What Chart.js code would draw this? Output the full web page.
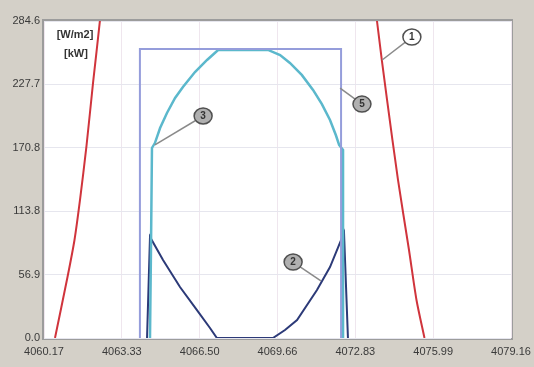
<!DOCTYPE html>
<html>
<head>
<meta charset="utf-8">
<script src="https://cdn.jsdelivr.net/npm/chart.js@4.4.1/dist/chart.umd.min.js"></script>
<style>
  html, body { margin: 0; padding: 0; background: #d4d0c8; overflow: hidden; }
  #wrap { width: 545px; height: 367px; }
</style>
</head>
<body>
<div id="wrap"><canvas id="curveChart"></canvas></div>
<script>
// Axis ticks
const xTickValues = [4060.17, 4063.335, 4066.50, 4069.665, 4072.83, 4075.995, 4079.16];
const xTickLabels = ['4060.17', '4063.33', '4066.50', '4069.66', '4072.83', '4075.99', '4079.16'];
const yTickValues = [0, 56.92, 113.84, 170.76, 227.68, 284.6];
const yTickLabels = ['0.0', '56.9', '113.8', '170.8', '227.7', '284.6'];

// Curve 1 (red), two branches split by a gap
const redX = [4060.617, 4061.126, 4061.410, 4061.634, 4061.898, 4062.163, 4062.447, 4062.51,
              null,
              4073.65, 4073.71, 4074.12, 4074.565, 4075.012, 4075.317, 4075.642];
const redY = [0, 54.8, 88.0, 123.9, 172.4, 228.9, 285.5, 303.5,
              null,
              303.5, 284.6, 213.7, 141.9, 79.0, 34.1, 0];

// Curve 3 (cyan)
const cyanX = [4064.48, 4064.52, 4064.56, 4064.68, 4064.89, 4065.17, 4065.50, 4065.82, 4066.31,
               4066.80, 4067.25, 4069.28, 4069.77, 4070.17, 4070.66, 4071.11, 4071.47, 4071.80,
               4072.04, 4072.17, 4072.33, 4072.33];
const cyanY = [0, 79, 170.6, 175, 188.5, 202, 215.5, 225.3, 238.8,
               249.6, 258.6, 258.6, 254, 246.9, 236, 222.7, 210, 195.7,
               182, 173.3, 168.8, 0];

// Curve 2 (navy)
const navyX = [4064.36, 4064.48, 4065.01, 4065.70, 4066.39, 4066.92, 4067.20, 4069.48,
               4069.97, 4070.46, 4071.27, 4071.80, 4072.37, 4072.53];
const navyY = [0, 90.7, 70, 45.8, 25.1, 9, 0, 0,
               7.2, 16.2, 43.1, 63.7, 94.3, 0];

// Curve 5 (limit rectangle)
const rectX = [4064.07, 4064.07, 4072.25, 4072.25];
const rectY = [0, 259.5, 259.5, 0];

// Callout numbers: target point and label point, in data units
const callouts = [
    { text: '1', tx: 4073.92, ty: 249.6, lx: 4075.13, ly: 270.2 },
    { text: '5', tx: 4072.21, ty: 224.4, lx: 4073.10, ly: 210.0 },
    { text: '3', tx: 4064.68, ty: 173.3, lx: 4066.64, ly: 199.3 },
    { text: '2', tx: 4071.43, ty: 51.2,  lx: 4070.30, ly: 68.2 }
];

function toPoints(xs, ys) {
    return xs.map((x, i) => (x === null ? { x: NaN, y: null } : { x: x, y: ys[i] }));
}

// white plot area with a sunken grey frame
const plotBackground = {
    id: 'plotBackground',
    beforeDraw(chart) {
        const { ctx, chartArea: a } = chart;
        ctx.save();
        ctx.fillStyle = '#ffffff';
        ctx.fillRect(a.left, a.top, a.right - a.left, a.bottom - a.top);
        ctx.strokeStyle = '#9c9c9c';
        ctx.lineWidth = 2;
        ctx.strokeRect(a.left - 1, a.top - 1, a.right - a.left + 2, a.bottom - a.top + 2);
        ctx.restore();
    }
};

// unit text and numbered callouts
const overlay = {
    id: 'overlay',
    afterDatasetsDraw(chart) {
        const { ctx, scales } = chart;
        ctx.save();
        ctx.font = 'bold 11px "Liberation Sans", Arial, sans-serif';
        ctx.fillStyle = '#333';
        ctx.textAlign = 'center';
        ctx.textBaseline = 'middle';
        ctx.fillText('[W/m2]', 75, 35);
        ctx.fillText('[kW]', 76, 54);

        callouts.forEach(c => {
            const tx = scales.x.getPixelForValue(c.tx);
            const ty = scales.y.getPixelForValue(c.ty);
            const lx = scales.x.getPixelForValue(c.lx);
            const ly = scales.y.getPixelForValue(c.ly);
            ctx.strokeStyle = '#8a8a8a';
            ctx.lineWidth = 1.5;
            ctx.beginPath();
            ctx.moveTo(tx, ty);
            ctx.lineTo(lx, ly);
            ctx.stroke();
            ctx.beginPath();
            ctx.ellipse(lx, ly, 9, 8, 0, 0, Math.PI * 2);
            ctx.fillStyle = c.text === '1' ? '#ffffff' : '#b0b0b0';
            ctx.fill();
            ctx.strokeStyle = '#505050';
            ctx.lineWidth = 1.5;
            ctx.stroke();
            ctx.fillStyle = '#333';
            ctx.font = 'bold 10px "Liberation Sans", Arial, sans-serif';
            ctx.fillText(c.text, lx, ly + 0.5);
        });
        ctx.restore();
    }
};

const tickFont = { family: '"Liberation Sans", Arial, sans-serif', size: 11 };

new Chart(document.getElementById('curveChart'), {
    type: 'line',
    data: {
        datasets: [
            { data: toPoints(rectX, rectY), borderColor: '#959ddb', borderWidth: 2 },
            { data: toPoints(cyanX, cyanY), borderColor: '#5bb8cc', borderWidth: 2.5 },
            { data: toPoints(navyX, navyY), borderColor: '#2c3a78', borderWidth: 2 },
            { data: toPoints(redX, redY), borderColor: '#d0343c', borderWidth: 2, spanGaps: false, tension: 0.25 }
        ]
    },
    options: {
        responsive: true,
        maintainAspectRatio: false,
        animation: false,
        layout: { padding: { left: 0, top: 21, right: 34, bottom: 0 } },
        elements: { point: { radius: 0 }, line: { tension: 0, fill: false } },
        plugins: { legend: { display: false }, tooltip: { enabled: false } },
        scales: {
            x: {
                type: 'linear',
                min: 4060.17,
                max: 4079.16,
                afterBuildTicks: s => { s.ticks = xTickValues.map(v => ({ value: v })); },
                afterFit: s => { s.height = 29; },
                grid: { color: '#efe6ee', drawTicks: false },
                border: { display: false },
                ticks: {
                    autoSkip: false,
                    maxRotation: 0,
                    padding: 7,
                    color: '#3a3a3a',
                    font: tickFont,
                    callback: (v, i) => xTickLabels[i]
                }
            },
            y: {
                min: 0,
                max: 284.6,
                afterBuildTicks: s => { s.ticks = yTickValues.map(v => ({ value: v })); },
                afterFit: s => { s.width = 44; },
                grid: { color: '#e6e6ee', drawTicks: false },
                border: { display: false },
                ticks: {
                    padding: 4,
                    color: '#3a3a3a',
                    font: tickFont,
                    callback: (v, i) => yTickLabels[i]
                }
            }
        }
    },
    plugins: [plotBackground, overlay]
});
</script>
</body>
</html>
